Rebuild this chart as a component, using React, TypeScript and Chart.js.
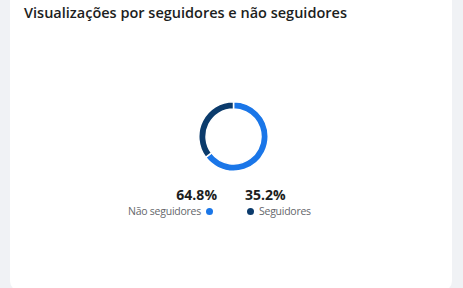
import React, { useEffect, useRef } from "react";
import { Chart, registerables } from "chart.js";

Chart.register(...registerables);

const title = "Visualizações por seguidores e não seguidores";
const categories = ["Não seguidores", "Seguidores"];
const values = [64.8, 35.2];
const colors = ["#1a76e8", "#0b3b6c"];

export default function App() {
  const ref = useRef<HTMLCanvasElement | null>(null);

  useEffect(() => {
    document.body.style.margin = "0";
    const chart = new Chart(ref.current!, {
      type: "doughnut",
      data: {
        labels: categories,
        datasets: [
          {
            data: values,
            backgroundColor: colors,
            borderColor: "#ffffff",
            borderWidth: 1.5,
            hoverOffset: 0,
          },
        ],
      },
      options: {
        animation: false,
        responsive: false,
        maintainAspectRatio: false,
        cutout: "79%",
        layout: { padding: 0 },
        plugins: { legend: { display: false }, tooltip: { enabled: false } },
      },
    });
    return () => chart.destroy();
  }, []);

  const font = "'Open Sans', 'Noto Sans', sans-serif";
  const labelStyle: React.CSSProperties = {
    position: "absolute",
    top: 203,
    fontSize: 10.5,
    letterSpacing: -0.25,
    color: "#65676b",
    lineHeight: "16px",
    display: "flex",
    alignItems: "center",
    whiteSpace: "nowrap",
  };
  const pctStyle: React.CSSProperties = {
    position: "absolute",
    top: 186,
    fontSize: 14,
    fontWeight: 700,
    color: "#1c1e21",
    lineHeight: "18px",
  };
  const dot = (c: string, side: "left" | "right"): React.CSSProperties => ({
    display: "inline-block",
    width: 7,
    height: 7,
    borderRadius: "50%",
    background: c,
    [side === "left" ? "marginLeft" : "marginRight"]: 5,
  });

  return (
    <div
      style={{
        position: "fixed",
        left: 0,
        top: 0,
        width: 463,
        height: 288,
        background: "#f0f2f5",
        overflow: "hidden",
        fontFamily: font,
      }}
    >
      <div
        style={{
          position: "absolute",
          left: 10,
          top: -20,
          width: 442,
          height: 311,
          background: "#ffffff",
          borderRadius: 10,
        }}
      />
      <div
        style={{
          position: "absolute",
          left: 24,
          top: 2,
          fontSize: 14.5,
          fontWeight: 600,
          color: "#1c1e21",
          whiteSpace: "nowrap",
          lineHeight: "22px",
        }}
      >
        {title}
      </div>
      <canvas
        ref={ref}
        width={71}
        height={71}
        style={{ position: "absolute", left: 198, top: 101, width: 71, height: 71 }}
      />
      <div style={{ ...pctStyle, right: 463 - 217 }}>{values[0].toFixed(1)}%</div>
      <div style={{ ...pctStyle, left: 245 }}>{values[1].toFixed(1)}%</div>
      <div style={{ ...labelStyle, right: 463 - 213 }}>
        {categories[0]}
        <span style={dot(colors[0], "left")} />
      </div>
      <div style={{ ...labelStyle, left: 247 }}>
        <span style={dot(colors[1], "right")} />
        {categories[1]}
      </div>
    </div>
  );
}
